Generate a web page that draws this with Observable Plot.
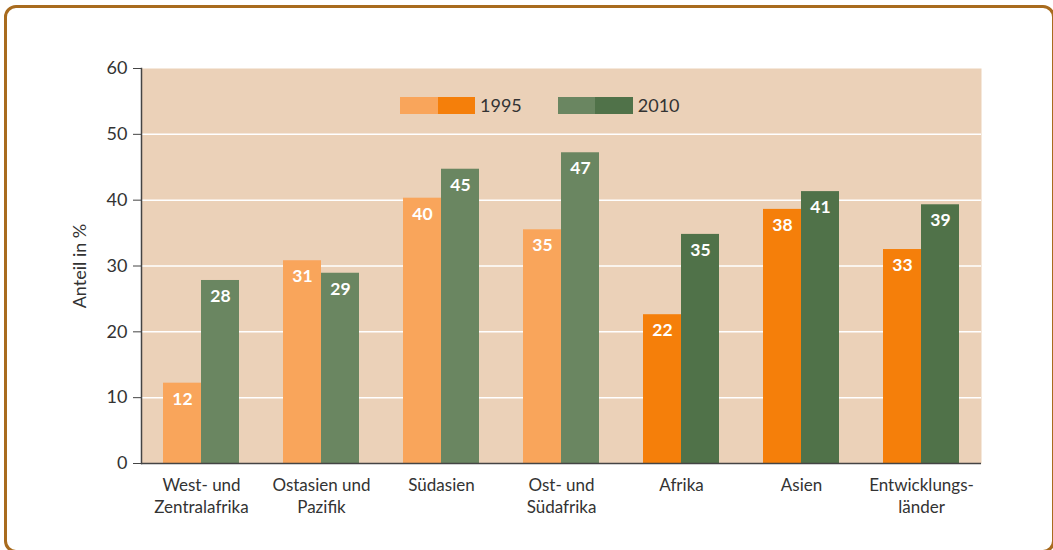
<!DOCTYPE html>
<html>
<head>
<meta charset="utf-8">
<script src="https://cdn.jsdelivr.net/npm/d3@7"></script>
<script src="https://cdn.jsdelivr.net/npm/@observablehq/plot@0.6"></script>
<style>
  html, body { margin: 0; padding: 0; background: #fff; overflow: hidden; }
  #wrap { position: relative; width: 1053px; height: 550px; overflow: hidden; font-family: Lato, "Open Sans", sans-serif; }
  #border { position: absolute; left: 4px; top: 5px; width: 1051px; height: 548px; border: 3px solid #a86b1e; border-radius: 12px; box-sizing: border-box; pointer-events: none; }
  #chart { position: absolute; left: 0; top: 0; }
  #legend { position: absolute; left: 400px; top: 94px; display: flex; align-items: center; font-size: 18px; color: #333; }
  .item { display: flex; align-items: center; margin-right: 36px; }
  .sw { width: 37.5px; height: 17px; }
  .lab { margin-left: 5px; }
</style>
</head>
<body>
<div id="wrap">
  <div id="chart"></div>
  <div id="legend"></div>
  <div id="border"></div>
</div>
<script>
// ---- data ----
const categories = ["West- und\nZentralafrika", "Ostasien und\nPazifik", "Südasien", "Ost- und\nSüdafrika", "Afrika", "Asien", "Entwicklungs-\nländer"];
const groupType = ["region", "region", "region", "region", "aggregate", "aggregate", "aggregate"];
const years = ["1995", "2010"];
const values1995 = [12.2, 30.8, 40.3, 35.5, 22.6, 38.6, 32.5];
const values2010 = [27.8, 28.9, 44.7, 47.2, 34.8, 41.3, 39.3];
const labels1995 = [12, 31, 40, 35, 22, 38, 33];
const labels2010 = [28, 29, 45, 47, 35, 41, 39];
const yTicks = [0, 10, 20, 30, 40, 50, 60];
const gridTicks = [10, 20, 30, 40, 50];
const palette = {
  "1995": {region: "#f9a55b", aggregate: "#f57f0a"},
  "2010": {region: "#6a8661", aggregate: "#507249"}
};
const bg = "#ebd1b8";

const data = [];
categories.forEach((c, i) => {
  data.push({category: c, year: "1995", value: values1995[i], label: labels1995[i], color: palette["1995"][groupType[i]]});
  data.push({category: c, year: "2010", value: values2010[i], label: labels2010[i], color: palette["2010"][groupType[i]]});
});

const chart = Plot.plot({
  width: 1053,
  height: 550,
  marginLeft: 141,
  marginRight: 72,
  marginTop: 68,
  marginBottom: 87,
  style: {fontFamily: "Lato, 'Open Sans', sans-serif", fontSize: "17px", color: "#333", background: "transparent"},
  fx: {domain: categories, padding: 0, label: null},
  x: {domain: years, paddingInner: 0, paddingOuter: 0.54, axis: null},
  y: {domain: [0, 60]},
  marks: [
    Plot.frame({fill: bg, stroke: null, facet: "super"}),
    Plot.gridY(gridTicks, {stroke: "white", strokeOpacity: 1, strokeWidth: 1.5}),
    Plot.barY(data, {fx: "category", x: "year", y: "value", fill: d => d.color}),
    Plot.text(data, {fx: "category", x: "year", y: "value", text: d => String(d.label), dy: 16, fill: "white", fontWeight: "bold", fontSize: 17.5}),
    Plot.ruleY([0], {stroke: "#444", strokeWidth: 1.5}),
    Plot.frame({anchor: "left", facet: "super", stroke: "#444", strokeWidth: 1.5}),
    Plot.axisY({ticks: yTicks, tickSize: 8, tickPadding: 6, stroke: "#444", label: "Anteil in %", labelAnchor: "center", labelArrow: "none", labelOffset: 68, fontSize: 18}),
    Plot.axisFx({anchor: "bottom", tickSize: 0, tickPadding: 12, lineHeight: 1.3, fontSize: 17, label: null})
  ]
});
document.getElementById("chart").appendChild(chart);

const legend = document.getElementById("legend");
years.forEach(y => {
  const item = document.createElement("div");
  item.className = "item";
  ["region", "aggregate"].forEach(g => {
    const s = document.createElement("div");
    s.className = "sw";
    s.style.background = palette[y][g];
    item.appendChild(s);
  });
  const t = document.createElement("span");
  t.className = "lab";
  t.textContent = y;
  item.appendChild(t);
  legend.appendChild(item);
});
</script>
</body>
</html>
